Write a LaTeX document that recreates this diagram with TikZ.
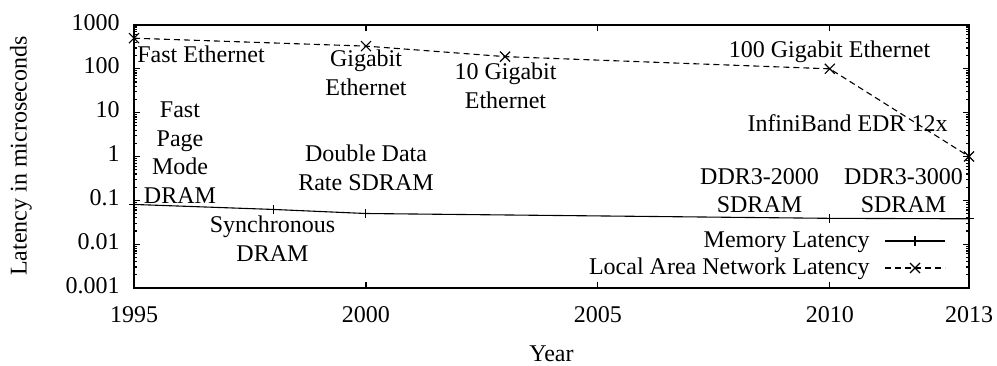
\documentclass[tikz,border=0pt]{standalone}
\usepackage{fontspec}
\setmainfont{Liberation Serif}
\begin{document}
\begin{tikzpicture}[x=0.5pt,y=-0.5pt,
  font=\fontsize{12}{14.2}\selectfont,
  frame/.style={line width=0.8pt},
  tick/.style={line width=0.6pt},
  memline/.style={line width=0.55pt},
  lanline/.style={line width=0.55pt, dash pattern=on 3pt off 2pt},
  lbl/.style={anchor=base, align=center, inner sep=0pt},
  plusmark/.pic={\draw[line width=0.55pt] (-2.4pt,0)--(2.4pt,0) (0,-2.4pt)--(0,2.4pt);},
  crossmark/.pic={\draw[line width=0.55pt] (-2.5pt,-2.5pt)--(2.5pt,2.5pt) (-2.5pt,2.5pt)--(2.5pt,-2.5pt);}]
\useasboundingbox (0,0) rectangle (997,365);

% data frame: x = years since 1995, y = decades above 0.001
\begin{scope}[shift={(134,288)}, x=23.1945pt, y=21.9165pt]
  \coordinate (m95) at (0,{log10(0.08)+3});
  \coordinate (m98) at (3,{log10(0.062)+3});
  \coordinate (m00) at (5,{log10(0.05)+3});
  \coordinate (m10) at (15,{log10(0.0385)+3});
  \coordinate (m13) at (18,{log10(0.0375)+3});
  \coordinate (n95) at (0,{log10(500)+3});
  \coordinate (n00) at (5,{log10(330)+3});
  \coordinate (n03) at (8,{log10(190)+3});
  \coordinate (n10) at (15,{log10(100)+3});
  \coordinate (n13) at (18,{log10(1)+3});

  % major and minor log ticks on both sides
  \foreach \d in {0,...,6} {
    \draw[tick] (0,\d) -- ++(3pt,0);
    \draw[tick] (18,\d) -- ++(-3pt,0);
  }
  \foreach \d in {0,...,5} \foreach \m in {2,...,9} {
    \draw[tick] (0,{\d+log10(\m)}) -- ++(1.5pt,0);
    \draw[tick] (18,{\d+log10(\m)}) -- ++(-1.5pt,0);
  }
  \foreach \yr in {5,10,15} {
    \draw[tick] (\yr,0) -- ++(0,3pt);
    \draw[tick] (\yr,6) -- ++(0,-3pt);
  }
  \draw[frame] (0,0) rectangle (18,6);
\end{scope}

% curves
\draw[memline] (m95) -- (m98) -- (m00) -- (m10) -- (m13);
\draw[lanline] (n95) -- (n00) -- (n03) -- (n10) -- (n13);
\foreach \p in {m95,m98,m00,m10,m13} \pic at (\p) {plusmark};
\foreach \p in {n95,n00,n03,n10,n13} \pic at (\p) {crossmark};

% axis numbers
\foreach \v/\t in {0/0.001,1/0.01,2/0.1,3/1,4/10,5/100,6/1000}
  \node[anchor=base east, inner sep=0pt] (yl\v) at (120,{288-43.833*\v+5}) {\t};
\foreach \yr in {1995,2000,2005,2010,2013}
  \node[lbl] (xl\yr) at ({134+(\yr-1995)*46.389},322) {\yr};
\node[lbl] (xtitle) at (551.5,361.5) {Year};
\node[rotate=90, inner sep=0pt] (ytitle) at (21,156) {Latency in microseconds};

% technology labels (base = baseline of the last line)
\node[lbl, anchor=base west] (t1) at (137,62) {Fast Ethernet};
\node[lbl] (t2) at (180,203) {Fast\\Page\\Mode\\DRAM};
\node[lbl] (t3) at (366,95) {Gigabit\\Ethernet};
\node[lbl] (t4) at (505.5,108) {10 Gigabit\\Ethernet};
\node[lbl] (t5) at (366,190) {Double Data\\Rate SDRAM};
\node[lbl] (t6) at (272.5,261) {Synchronous\\DRAM};
\node[lbl] (t7) at (829.5,57.5) {100 Gigabit Ethernet};
\node[lbl] (t8) at (847.5,131.5) {InfiniBand EDR 12x};
\node[lbl] (t9) at (759.5,212.5) {DDR3-2000\\SDRAM};
\node[lbl] (t10) at (903.5,212.5) {DDR3-3000\\SDRAM};

% key
\node[lbl, anchor=base east] (k1) at (870,247) {Memory Latency};
\node[lbl, anchor=base east] (k2) at (870,274) {Local Area Network Latency};
\coordinate (k1a) at (885,241); \coordinate (k1b) at (945,241); \coordinate (k1c) at (915,241);
\coordinate (k2a) at (885,268); \coordinate (k2b) at (945,268); \coordinate (k2c) at (915,268);
\draw[memline] (k1a) -- (k1b);
\draw[lanline] (k2a) -- (k2b);
\pic at (k1c) {plusmark};
\pic at (k2c) {crossmark};
\end{tikzpicture}
\end{document}
